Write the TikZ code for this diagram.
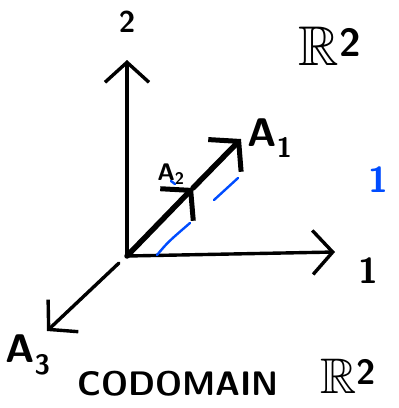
\documentclass[tikz,border=0pt]{standalone}
\usepackage{amssymb}
\usepackage{fontspec}
\usetikzlibrary{arrows.meta}

\tikzset{
  axis/.style={line width=3.4pt, line cap=round, -{Straight Barb[length=20pt,width=44pt,line width=3.4pt]}},
  vec/.style={line width=5.5pt, line cap=round, -{Straight Barb[length=20pt,width=46pt,line width=5pt]}},
  hint/.style={line width=2.4pt, line cap=round, blue!70!cyan},
  lab/.style={font=\sffamily\bfseries}
}

\begin{document}
\begin{tikzpicture}[x=1pt, y=-1pt]
  \useasboundingbox (0,0) rectangle (399,408);

  % Origin and axis ends
  \coordinate (O) at (127,256);
  \coordinate (ztip) at (127,60);
  \coordinate (xtip) at (335,252);
  \coordinate (a3start) at (119,263);
  \coordinate (a3tip) at (47,331);
  \coordinate (a2mid) at (193,188);
  \coordinate (a1tip) at (241,139);

  % Axes
  \draw[axis] (O) -- (ztip);
  \draw[axis] (O) -- (xtip);
  \draw[axis] (a3start) -- (a3tip);

  % Vectors A1 and A2 along the same direction
  \draw[vec] (O) -- (a2mid);
  \draw[vec] (a2mid) -- (a1tip);

  % Blue dashed hint parallel to A1
  \draw[hint] (157,255) .. controls (168,242) .. (190,223);
  \draw[hint] (214,200) -- (238,178);
  \draw[hint] (171,181) -- (175,184);

  % Labels
  \node[lab, font=\sffamily\bfseries\fontsize{30}{32}\selectfont] (zlab) at (127,22) {2};
  \node[lab, font=\sffamily\bfseries\fontsize{36}{38}\selectfont] (xlab) at (368,271) {1};
  \node[lab, font=\sffamily\bfseries\fontsize{40}{42}\selectfont] (a1lab) at (270,138) {A\textsubscript{1}};
  \node[lab, font=\sffamily\bfseries\fontsize{24}{26}\selectfont] (a2lab) at (171,174) {A\textsubscript{2}};
  \node[lab, font=\sffamily\bfseries\fontsize{40}{42}\selectfont] (a3lab) at (28,355) {A\textsubscript{3}};
  \node[lab, blue!70!cyan, font=\sffamily\bfseries\fontsize{36}{38}\selectfont] (ylab) at (378,180) {1};
  \node[font=\fontsize{56}{58}\selectfont] (rtop) at (330,46) {$\mathbb{R}$\textsuperscript{\sffamily\bfseries 2}};
  \node[lab, font=\sffamily\bfseries\fontsize{34}{36}\selectfont] (codom) at (178,384) {CODOMAIN};
  \node[font=\fontsize{50}{52}\selectfont] (rbot) at (348,376) {$\mathbb{R}$\textsuperscript{\sffamily\bfseries 2}};
\end{tikzpicture}
\end{document}
